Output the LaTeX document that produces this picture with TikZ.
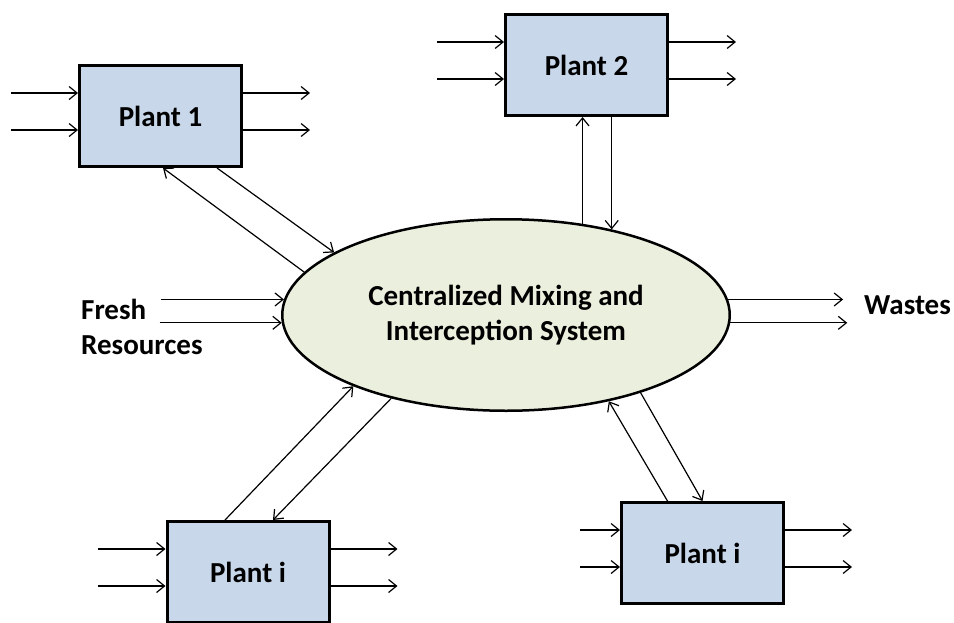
\documentclass[tikz,border=0pt]{standalone}
\usepackage{fontspec}
\setmainfont{Carlito}
\usetikzlibrary{arrows.meta,shapes.geometric,calc}
\definecolor{plantfill}{RGB}{200,215,234}
\definecolor{hubfill}{RGB}{235,240,222}
\tikzset{
  bigtext/.style={font=\bfseries\fontsize{29}{35}\selectfont},
  plant/.style={draw, line width=3pt, fill=plantfill, minimum width=162pt,
    minimum height=101pt, inner sep=0pt, bigtext},
  hub/.style={ellipse, draw, line width=2.5pt, fill=hubfill, minimum width=447.5pt,
    minimum height=191.5pt, inner sep=0pt, align=center, bigtext},
  lbl/.style={inner sep=0pt, bigtext},
  flow/.style={line width=1.2pt, -{Straight Barb[length=8pt,width=13pt,line width=1.2pt]}}
}
\begin{document}
\begin{tikzpicture}[x=1pt,y=-1pt]
  \useasboundingbox (0,0) rectangle (954,622);
  \clip (0,0) rectangle (954,622);

  % central unit and the four plants
  \node[hub]   (hub) at (506,315) {Centralized Mixing and\\Interception System};
  \node[plant] (p1)  at (160.5,116) {Plant 1};
  \node[plant] (p2)  at (586.5,65)  {Plant 2};
  \node[plant] (pa)  at (248,572)   {Plant i};
  \node[plant] (pb)  at (702.5,553) {Plant i};

  % side labels
  \node[lbl, align=left, anchor=west] (fresh)  at (81,327) {Fresh\\Resources};
  \node[lbl, anchor=west]             (wastes) at (864,305) {Wastes};

  % external inputs and outputs of every plant
  \foreach \p/\inl in {p1/67,p2/67,pa/68,pb/40}{
    \foreach \dy in {29,66}{
      \draw[flow] ($(\p.north west)+(-\inl,\dy)$) -- ($(\p.north west)+(0,\dy)$);
      \draw[flow] ($(\p.north east)+(0,\dy)$) -- ++(67,0);
    }
  }

  % exchanges between the plants and the central unit
  \draw[flow] (hub.168.4) -- ($(p1.south)+(2.5,0)$);
  \draw[flow] ($(p1.south)+(56.5,0)$) -- (hub.160.9);

  \draw[flow] (hub.50.2) -- (hub.50.2 |- p2.south);
  \draw[flow] (p2.south -| hub.39.3) -- (hub.39.3);

  \draw[flow] ($(pa.north)+(-23,0)$) -- (hub.205.9);
  \draw[flow] (hub.216.4) -- ($(pa.north)+(25,0)$);

  \draw[flow] ($(pb.north)+(-35,0)$) -- (hub.320.6);
  \draw[flow] (hub.330.4) -- (pb.north);

  % fresh resources in, wastes out
  \draw[flow] ($(hub.176.4)+(-123,0)$) -- (hub.176.4);
  \draw[flow] ($(hub.182.3)+(-122,0)$) -- (hub.182.3);
  \draw[flow] (hub.4.9) -- ++(115,0);
  \draw[flow] (hub.358.7) -- ++(117,0);
\end{tikzpicture}
\end{document}
